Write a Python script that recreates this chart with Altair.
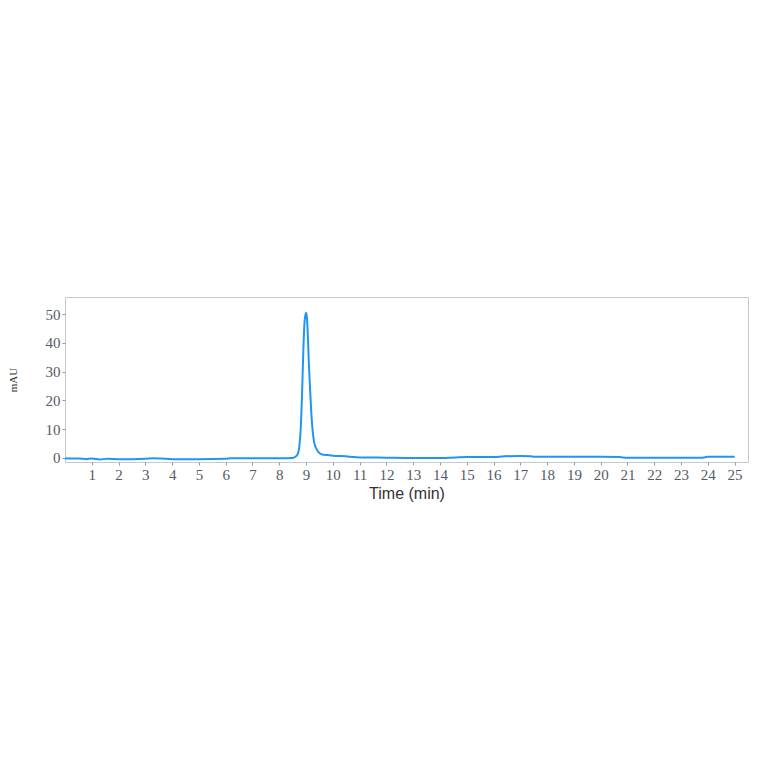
import pandas as pd
import altair as alt

# chromatogram trace
time = [0.0, 0.5, 0.8, 1.0, 1.3, 1.6, 2.0, 2.5, 3.0, 3.3, 3.6, 4.0, 5.0, 6.0, 6.2, 7.0, 8.0, 8.5,
        8.6, 8.7, 8.75, 8.8, 8.85, 8.9, 8.95, 9.0, 9.03, 9.07, 9.1, 9.15, 9.2, 9.25, 9.3, 9.4, 9.5,
        9.6, 9.8, 10.0, 10.5, 10.6, 11.0, 12.0, 13.0, 14.0, 14.6, 15.0, 16.0, 16.4, 17.0, 17.4,
        17.5, 18.0, 19.0, 20.0, 20.7, 21.0, 22.0, 23.0, 23.8, 24.0, 25.0]
mau = [-0.3, -0.3, -0.5, -0.3, -0.6, -0.4, -0.5, -0.5, -0.4, -0.2, -0.3, -0.5, -0.5, -0.4, -0.2, -0.2, -0.2, -0.1,
       0.3, 1.5, 4.0, 10.0, 22.0, 38.0, 48.0, 50.5, 49.0, 42.0, 34.0, 24.0, 15.0, 9.0, 5.5, 2.8, 1.6,
       1.1, 0.9, 0.7, 0.5, 0.3, 0.1, 0.0, -0.1, -0.1, 0.1, 0.2, 0.2, 0.5, 0.6, 0.5,
       0.3, 0.3, 0.3, 0.3, 0.2, 0.0, 0.0, 0.0, 0.0, 0.3, 0.3]
x_ticks = list(range(1, 26))
y_ticks = [0, 10, 20, 30, 40, 50]

df = pd.DataFrame({'time': time, 'mau': mau})

chart = (
    alt.Chart(df)
    .mark_line(color='#1e96f5', strokeWidth=2, interpolate='monotone')
    .encode(
        x=alt.X('time:Q', scale=alt.Scale(domain=[0, 25.5], nice=False, zero=False),
                axis=alt.Axis(values=x_ticks, title='Time (min)', grid=False, domain=False,
                              tickSize=3, tickColor='#999999', labelFont='Liberation Serif',
                              labelFontSize=15, labelColor='#555a66', labelPadding=2,
                              titleFont='Liberation Sans', titleFontSize=16, titleFontWeight='normal',
                              titleColor='#333333', titlePadding=3)),
        y=alt.Y('mau:Q', scale=alt.Scale(domain=[-1.5, 56], nice=False, zero=False),
                axis=alt.Axis(values=y_ticks, title='mAU', grid=False, domain=False,
                              tickSize=3, tickColor='#999999', labelFont='Liberation Serif',
                              labelFontSize=15, labelColor='#555a66', labelPadding=2,
                              titleFont='Liberation Serif', titleFontSize=11, titleFontWeight='normal',
                              titleColor='#333333', titlePadding=27)),
    )
    .properties(width=683, height=165, autosize='none',
                padding={'left': 57, 'top': 289, 'right': 8, 'bottom': 270})
    .configure_view(stroke='#c4c8d0', strokeWidth=1)
)

chart.save("out.html", embed_options={"renderer": "svg", "actions": False})
